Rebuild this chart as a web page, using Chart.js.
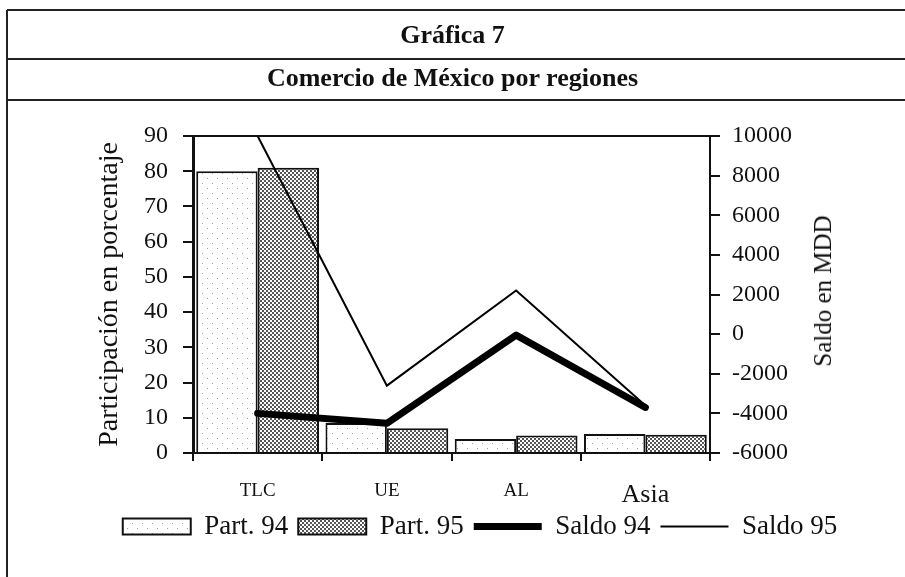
<!DOCTYPE html>
<html><head><meta charset="utf-8">
<script src="https://cdn.jsdelivr.net/npm/chart.js@4/dist/chart.umd.min.js"></script>
<style>
html,body{margin:0;padding:0;background:#fff;}
#wrap{position:relative;width:905px;height:577px;overflow:hidden;background:#fff;font-family:"Liberation Serif","Times New Roman",serif;color:#111;}
#c{position:absolute;left:0;top:0;}
.hl{position:absolute;left:7px;right:0;height:0;border-top:2px solid #222;}
.vl{position:absolute;left:6px;top:10px;bottom:0;width:0;border-left:2px solid #222;}
.ttl{position:absolute;left:0;right:0;text-align:center;font-weight:bold;font-size:26px;line-height:32px;}
#rt{position:absolute;left:823px;top:291px;transform:translate(-50%,-50%) rotate(-90deg);font-size:25px;white-space:nowrap;}
</style></head>
<body><div id="wrap">
<canvas id="c" width="905" height="577"></canvas>
<div class="hl" style="top:9px"></div>
<div class="hl" style="top:58px"></div>
<div class="hl" style="top:99px"></div>
<div class="vl"></div>
<div class="ttl" style="top:19px">Gráfica 7</div>
<div class="ttl" style="top:62px">Comercio de México por regiones</div>
<div id="rt">Saldo en MDD</div>
</div>
<script>
const categories = ['TLC', 'UE', 'AL', 'Asia'];
const part94 = [80, 8.5, 4, 5.4];
const part95 = [81, 7, 5, 5.2];
const saldo94 = [-4000, -4500, -50, -3700];
const saldo95 = [10000, -2600, 2200, -3600];
const leftTicks = {min: 0, max: 90, step: 10};
const rightTicks = {min: -6000, max: 10000, step: 2000};

const F = '"Liberation Serif", "Times New Roman", serif';
const INK = '#111';

function makePattern(size, dots, color) {
  const c = document.createElement('canvas');
  c.width = c.height = size;
  const g = c.getContext('2d');
  g.fillStyle = '#fff'; g.fillRect(0, 0, size, size);
  g.fillStyle = color;
  dots.forEach(([x, y, s]) => g.fillRect(x, y, s, s));
  return g.createPattern(c, 'repeat');
}
const pat94 = makePattern(10, [[2, 3, 1], [7, 8, 1]], '#a0a0a0');
const pat95 = makePattern(4, [[0, 0, 2], [2, 2, 2]], '#555');

const topBorder = {
  id: 'topBorder',
  afterDatasetsDraw(chart) {
    const a = chart.chartArea, ctx = chart.ctx;
    ctx.save(); ctx.strokeStyle = INK; ctx.lineWidth = 2;
    ctx.beginPath(); ctx.moveTo(a.left, a.top); ctx.lineTo(a.right, a.top); ctx.stroke();
    ctx.restore();
  }
};

new Chart(document.getElementById('c'), {
  type: 'bar',
  data: {
    labels: categories,
    datasets: [
      {type: 'bar', label: 'Part. 94', data: part94, yAxisID: 'y', backgroundColor: pat94, borderColor: INK, borderWidth: 2, order: 1},
      {type: 'bar', label: 'Part. 95', data: part95, yAxisID: 'y', backgroundColor: pat95, borderColor: INK, borderWidth: 2, order: 1},
      {type: 'line', label: 'Saldo 94', data: saldo94, yAxisID: 'y2', borderColor: '#000', backgroundColor: '#000', borderWidth: 7, pointRadius: 0, borderCapStyle: 'round', borderJoinStyle: 'round', tension: 0, order: 0},
      {type: 'line', label: 'Saldo 95', data: saldo95, yAxisID: 'y2', borderColor: '#000', backgroundColor: '#000', borderWidth: 2, pointRadius: 0, tension: 0, order: 0}
    ]
  },
  options: {
    responsive: false,
    animation: false,
    layout: {padding: {left: 80, right: 25, top: 136, bottom: 27}},
    datasets: {bar: {categoryPercentage: 0.95, barPercentage: 1}},
    plugins: {
      tooltip: {enabled: false},
      legend: {
        position: 'bottom',
        labels: {
          usePointStyle: true, pointStyleWidth: 68, boxHeight: 16, padding: 10,
          color: INK, font: {family: F, size: 27},
          sort: (a, b) => a.datasetIndex - b.datasetIndex,
          generateLabels(chart) {
            const items = Chart.defaults.plugins.legend.labels.generateLabels(chart);
            items.forEach(it => {
              const ds = chart.data.datasets[it.datasetIndex];
              it.pointStyle = ds.type === 'line' ? 'line' : 'rect';
              it.lineWidth = ds.borderWidth;
              it.strokeStyle = ds.type === 'line' ? '#000' : INK;
            });
            return items;
          }
        }
      }
    },
    scales: {
      x: {
        grid: {display: true, drawOnChartArea: false, tickLength: 8, color: INK, lineWidth: 2, offset: true},
        border: {color: INK, width: 2},
        ticks: {padding: 19, color: INK, font: (c) => ({family: F, size: (c.tick && c.tick.label === 'Asia') ? 26 : 19})},
        afterFit: (s) => { s.height = 50; }
      },
      y: {
        position: 'left', min: leftTicks.min, max: leftTicks.max,
        ticks: {stepSize: leftTicks.step, padding: 15, color: INK, font: {family: F, size: 24}},
        grid: {drawOnChartArea: false, tickLength: 10, color: INK, lineWidth: 2},
        border: {color: INK, width: 3},
        title: {display: true, text: 'Participación en porcentaje', color: INK, font: {family: F, size: 28}, padding: {top: 13, bottom: 0}},
        afterFit: (s) => { s.width = 113; }
      },
      y2: {
        position: 'right', min: rightTicks.min, max: rightTicks.max,
        ticks: {stepSize: rightTicks.step, padding: 12, color: INK, font: {family: F, size: 24}, callback: (v) => String(v)},
        grid: {drawOnChartArea: false, tickLength: 10, color: INK, lineWidth: 2},
        border: {color: INK, width: 2},
        afterFit: (s) => { s.width = 170; }
      }
    }
  },
  plugins: [topBorder]
});
</script>
</body></html>
